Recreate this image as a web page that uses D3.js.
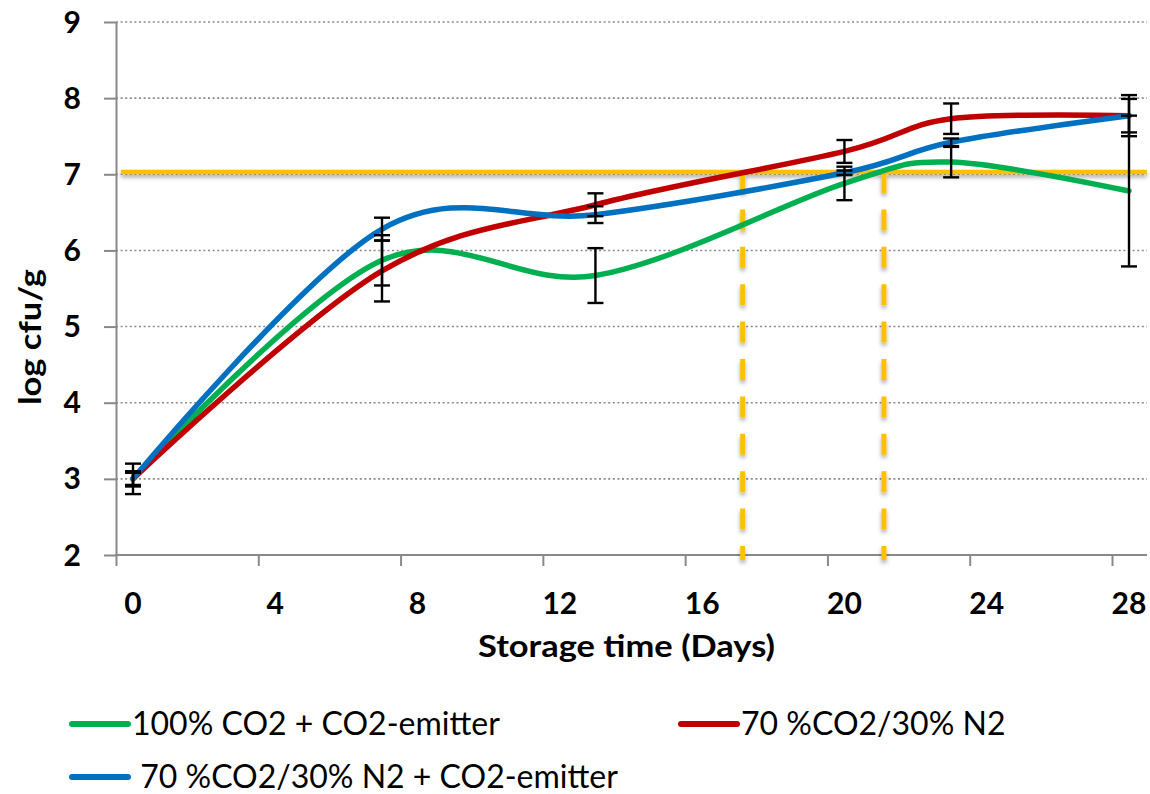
<!DOCTYPE html>
<html>
<head>
<meta charset="utf-8">
<script src="https://cdn.jsdelivr.net/npm/d3@7"></script>
<style>
  body { margin: 0; background: #fff; }
  svg { display: block; font-family: Lato, "Open Sans", sans-serif; }
</style>
</head>
<body>
<div id="chart"></div>
<script>
// storage days and log cfu/g per treatment
const days = [0, 7, 13, 20, 23, 28];
const green = [3.0, 5.87, 5.67, 6.88, 7.16, 6.78];
const greenErr = [0.08, 0.33, 0.36, 0.22, 0.2, 0.99];
const red = [3.0, 5.73, 6.6, 7.3, 7.73, 7.77];
const redErr = [0.2, 0.4, 0.15, 0.15, 0.2, 0.27];
const blue = [3.0, 6.28, 6.47, 7.02, 7.42, 7.77];
const blueErr = [0.1, 0.15, 0.11, 0.03, 0.05, 0.22];

const seriesNames = ['100% CO2 + CO2-emitter', '70 %CO2/30% N2', ' 70 %CO2/30% N2 + CO2-emitter'];
const xTicks = [0, 4, 8, 12, 16, 20, 24, 28];
const yTicks = [2, 3, 4, 5, 6, 7, 8, 9];

// threshold line and the days where curves cross it
const limit = 7.03;
const limitSpan = [-0.34, 28.5];
const crossDays = [17.14, 21.11];

const W = 1150, H = 794;
const plotLeft = 116, plotRight = 1147;
const tickShift = 17; // excel draws tick marks left of the labels

const svg = d3.select('#chart').append('svg')
  .attr('width', W).attr('height', H);

const defs = svg.append('defs');
const f = defs.append('filter').attr('id', 'shadow')
  .attr('x', '-20%').attr('y', '-50%').attr('width', '140%').attr('height', '200%');
f.append('feDropShadow').attr('dx', 0).attr('dy', 3).attr('stdDeviation', 2)
  .attr('flood-color', '#000').attr('flood-opacity', 0.35);

const x = d3.scaleLinear().domain([0, 28]).range([133, 1129]);
const y = d3.scaleLinear().domain([2, 9]).range([555, 22]);

// grid
svg.append('g').selectAll('line')
  .data(yTicks.filter(d => d > 2))
  .join('line')
  .attr('x1', plotLeft).attr('x2', plotRight)
  .attr('y1', d => y(d)).attr('y2', d => y(d))
  .attr('stroke', '#8a8a8a').attr('stroke-width', 1.6)
  .attr('stroke-dasharray', '2,2.6');

// y axis
const yAxis = svg.append('g')
  .attr('transform', `translate(${plotLeft},0)`)
  .call(d3.axisLeft(y).tickValues(yTicks).tickSize(12).tickSizeOuter(0).tickFormat(''));
yAxis.select('.domain').attr('stroke', '#898989').attr('stroke-width', 2);
yAxis.selectAll('.tick line').attr('stroke', '#898989').attr('stroke-width', 2);

svg.append('g').selectAll('text')
  .data(yTicks)
  .join('text')
  .attr('x', 81).attr('y', d => y(d) + 10.5)
  .attr('text-anchor', 'end')
  .attr('font-size', 30).attr('font-weight', 'bold')
  .text(d => d);

// x axis
const xAxis = svg.append('g')
  .attr('transform', `translate(0,${y(2)})`)
  .call(d3.axisBottom(x).tickValues(xTicks).tickSize(11).tickSizeOuter(0).tickFormat(''));
xAxis.select('.domain').remove();
xAxis.selectAll('.tick line')
  .attr('transform', `translate(${-tickShift},0)`)
  .attr('stroke', '#898989').attr('stroke-width', 2);
xAxis.append('line')
  .attr('x1', plotLeft - 1).attr('x2', plotRight)
  .attr('stroke', '#898989').attr('stroke-width', 2);

svg.append('g').selectAll('text')
  .data(xTicks)
  .join('text')
  .attr('x', d => x(d)).attr('y', 614)
  .attr('text-anchor', 'middle')
  .attr('font-size', 30).attr('font-weight', 'bold')
  .text(d => d);

svg.append('text')
  .attr('x', 478).attr('y', 657)
  .attr('font-size', 31).attr('font-weight', 'bold')
  .attr('textLength', 297).attr('lengthAdjust', 'spacingAndGlyphs')
  .text('Storage time (Days)');

svg.append('text')
  .attr('transform', 'translate(41,405) rotate(-90)')
  .attr('font-size', 31).attr('font-weight', 'bold')
  .attr('textLength', 136).attr('lengthAdjust', 'spacingAndGlyphs')
  .text('log cfu/g');

// threshold lines
const thr = svg.append('g').attr('filter', 'url(#shadow)');
thr.selectAll('line.v')
  .data(crossDays)
  .join('line')
  .attr('class', 'v')
  .attr('x1', d => x(d)).attr('x2', d => x(d))
  .attr('y1', y(limit)).attr('y2', y(2) + 5)
  .attr('stroke', '#ffc000').attr('stroke-width', 5)
  .attr('stroke-dasharray', '21,16.4');
thr.append('line')
  .attr('x1', x(limitSpan[0])).attr('x2', x(limitSpan[1]))
  .attr('y1', y(limit)).attr('y2', y(limit))
  .attr('stroke', '#ffc000').attr('stroke-width', 4.5);

// series
const series = [
  { name: seriesNames[0], values: green, err: greenErr, color: '#00b050' },
  { name: seriesNames[1], values: red, err: redErr, color: '#c00000' },
  { name: seriesNames[2], values: blue, err: blueErr, color: '#0070c0' }
];

const line = d3.line()
  .curve(d3.curveCardinal)
  .x((d, i) => x(days[i]))
  .y(d => y(d));

svg.append('g').selectAll('path')
  .data(series)
  .join('path')
  .attr('d', d => line(d.values))
  .attr('fill', 'none')
  .attr('stroke', d => d.color)
  .attr('stroke-width', 5.5)
  .attr('stroke-linecap', 'round');

// error bars
const bars = series.flatMap(s => s.values.map((v, i) => ({ day: days[i], lo: v - s.err[i], hi: v + s.err[i] })));
const eb = svg.append('g').attr('stroke', '#000').attr('stroke-width', 2.4);
eb.selectAll('line.stem').data(bars).join('line').attr('class', 'stem')
  .attr('x1', d => x(d.day)).attr('x2', d => x(d.day))
  .attr('y1', d => y(d.lo)).attr('y2', d => y(d.hi));
eb.selectAll('line.hi').data(bars).join('line').attr('class', 'hi')
  .attr('x1', d => x(d.day) - 8).attr('x2', d => x(d.day) + 8)
  .attr('y1', d => y(d.hi)).attr('y2', d => y(d.hi));
eb.selectAll('line.lo').data(bars).join('line').attr('class', 'lo')
  .attr('x1', d => x(d.day) - 8).attr('x2', d => x(d.day) + 8)
  .attr('y1', d => y(d.lo)).attr('y2', d => y(d.lo));

// legend
const legendPos = [
  { sx: 72, tx: 132, y: 724 },
  { sx: 681, tx: 741, y: 724 },
  { sx: 72, tx: 132, y: 777 }
];
const lg = svg.append('g').selectAll('g')
  .data(series)
  .join('g');
lg.append('line')
  .attr('x1', (d, i) => legendPos[i].sx).attr('x2', (d, i) => legendPos[i].sx + 56)
  .attr('y1', (d, i) => legendPos[i].y).attr('y2', (d, i) => legendPos[i].y)
  .attr('stroke', d => d.color).attr('stroke-width', 6)
  .attr('stroke-linecap', 'round');
lg.append('text')
  .attr('x', (d, i) => legendPos[i].tx).attr('y', (d, i) => legendPos[i].y + 11)
  .attr('font-size', 32)
  .attr('xml:space', 'preserve')
  .style('white-space', 'pre')
  .text(d => d.name);
</script>
</body>
</html>
